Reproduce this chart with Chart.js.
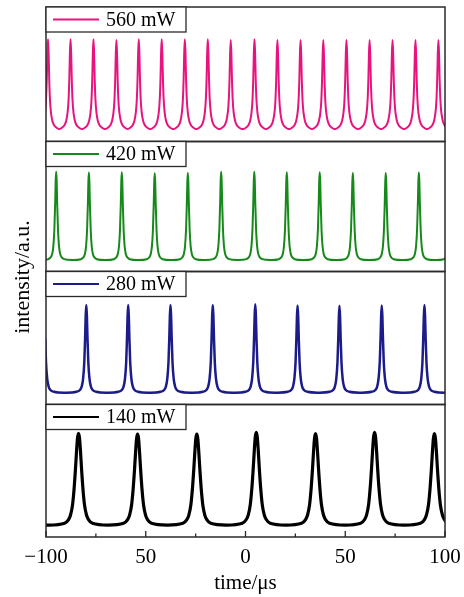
<!DOCTYPE html>
<html>
<head>
<meta charset="utf-8">
<script src="https://cdn.jsdelivr.net/npm/chart.js@4.4.1/dist/chart.umd.min.js"></script>
<style>
  html, body { margin: 0; padding: 0; background: #fff; }
  #wrap { position: relative; width: 464px; height: 597px; }
</style>
</head>
<body>
<div id="wrap"><canvas id="chart"></canvas></div>
<script>
// Panels listed top to bottom.
const powerLabels = ["560 mW", "420 mW", "280 mW", "140 mW"];
const lineColors = ["#e8137e", "#15891a", "#1b1b8a", "#000000"];

// Peak centres (µs) and peak heights (a.u.).
// A pulse just outside the window is kept where its tail reaches the frame.
const peaks560 = [-99.0, -87.7, -76.2, -64.7, -53.5, -42.0, -30.4, -18.9, -7.4, 4.5, 16.0, 27.6, 39.0, 50.6, 62.2, 73.7, 85.2, 96.7];
const heights560 = [0.76, 0.76, 0.76, 0.755, 0.76, 0.76, 0.76, 0.76, 0.755, 0.76, 0.755, 0.755, 0.755, 0.755, 0.755, 0.755, 0.755, 0.755];
const peaks420 = [-94.9, -78.5, -62.0, -45.5, -28.9, -12.2, 4.4, 20.7, 37.2, 53.8, 70.3, 86.9, 103.4];
const heights420 = [0.768, 0.761, 0.763, 0.756, 0.758, 0.768, 0.768, 0.763, 0.763, 0.758, 0.758, 0.761, 0.76];
const peaks280 = [-101.0, -79.8, -58.8, -37.6, -16.4, 4.9, 26.1, 47.1, 68.3, 89.7, 110.9];
const heights280 = [0.748, 0.748, 0.748, 0.748, 0.748, 0.753, 0.745, 0.742, 0.745, 0.748, 0.748];
const peaks140 = [-113.4, -83.7, -54.1, -24.4, 5.4, 35.1, 64.7, 94.7];
const heights140 = [0.78, 0.783, 0.776, 0.776, 0.79, 0.78, 0.79, 0.78];
const baselines = [0.093, 0.088, 0.089, 0.09];

// Pulse shape of each trace: offset from centre (µs) and fraction of peak height.
const shape560x = [-5.6, -4, -3, -2.2, -1.5, -1, -0.6, -0.3, 0, 0.3, 0.6, 1, 1.5, 2.2, 3, 4, 5.6];
const shape560y = [0, 0.02, 0.045, 0.09, 0.18, 0.32, 0.57, 0.86, 1, 0.86, 0.57, 0.32, 0.18, 0.09, 0.045, 0.02, 0];
const shape420x = [-8, -4, -2.8, -2, -1.4, -0.9, -0.5, -0.25, 0, 0.25, 0.5, 0.9, 1.4, 2, 2.8, 4, 8];
const shape420y = [0, 0.01, 0.03, 0.07, 0.16, 0.35, 0.65, 0.9, 1, 0.9, 0.65, 0.35, 0.16, 0.07, 0.03, 0.01, 0];
const shape280x = [-10, -5, -3.2, -2.3, -1.6, -1, -0.6, -0.3, 0, 0.3, 0.6, 1, 1.6, 2.3, 3.2, 5, 10];
const shape280y = [0, 0.01, 0.03, 0.07, 0.16, 0.35, 0.62, 0.88, 1, 0.88, 0.62, 0.35, 0.16, 0.07, 0.03, 0.01, 0];
const shape140x = [-14.8, -7, -5, -4, -3, -2.2, -1.5, -1, -0.5, 0, 0.5, 1, 1.5, 2.2, 3, 4, 5, 7, 14.8];
const shape140y = [0, 0.02, 0.06, 0.11, 0.22, 0.4, 0.62, 0.8, 0.95, 1, 0.95, 0.8, 0.62, 0.4, 0.22, 0.11, 0.06, 0.02, 0];

// x axis
const xTickValues = [-100, -50, 0, 50, 100];
const xTickLabels = ["\u2212100", "50", "0", "50", "100"];
const xMinorTicks = [-75, -25, 25, 75];
const xTitle = "time/\u03bcs";
const yTitle = "intensity/a.u.";

const SERIF = "'Liberation Serif', 'Times New Roman', serif";
const frameColor = "#2a2a2a";

function pulseTrain(peaks, heights, base, sx, sy) {
  const pts = [];
  peaks.forEach((c, i) => {
    sx.forEach((dx, j) => {
      pts.push({ x: c + dx, y: base + (heights[i] - base) * sy[j] });
    });
  });
  return pts;
}

const traces = [
  pulseTrain(peaks560, heights560, baselines[0], shape560x, shape560y),
  pulseTrain(peaks420, heights420, baselines[1], shape420x, shape420y),
  pulseTrain(peaks280, heights280, baselines[2], shape280x, shape280y),
  pulseTrain(peaks140, heights140, baselines[3], shape140x, shape140y),
];
const lineWidths = [2, 2, 2.5, 3.2];
// panel heights in the figure are not quite equal
const panelWeights = [134.5, 130, 133, 132.5];
const axisIds = ["p0", "p1", "p2", "p3"];

const scales = {
  x: {
    type: "linear", position: "bottom", min: -100, max: 100,
    afterBuildTicks: (s) => { s.ticks = xTickValues.map((v) => ({ value: v })); },
    afterFit: (s) => { s.height = 60; s.paddingLeft = 0; s.paddingRight = 0; },
    grid: { display: false, drawTicks: false },
    border: { display: false },
    ticks: {
      padding: 8, maxRotation: 0, color: "#000",
      font: { family: SERIF, size: 21 },
      callback: (v) => xTickLabels[xTickValues.indexOf(v)],
    },
    title: { display: true, text: xTitle, color: "#000", font: { family: SERIF, size: 21 }, padding: { top: 0, bottom: 1 } },
  },
};
// stacked left axes: the last one defined ends up on top
for (let i = 3; i >= 0; i--) {
  scales[axisIds[i]] = {
    type: "linear", position: "left", stack: "panels", stackWeight: panelWeights[i],
    min: 0, max: 1,
    afterFit: (s) => { s.width = 0; },
    ticks: { display: false }, grid: { display: false }, border: { display: false },
  };
}

const framePlugin = {
  id: "frames",
  afterDraw(chart) {
    const { ctx, chartArea } = chart;
    const xs = chart.scales.x;
    ctx.save();
    ctx.strokeStyle = frameColor;
    ctx.lineWidth = 1.5;
    axisIds.forEach((id, i) => {
      const s = chart.scales[id];
      ctx.strokeRect(chartArea.left, s.top, chartArea.right - chartArea.left, s.bottom - s.top);
      // legend box
      const bx = chartArea.left, by = s.top, bw = 140, bh = 25;
      ctx.fillStyle = "#fff";
      ctx.fillRect(bx, by, bw, bh);
      ctx.lineWidth = 1.3;
      ctx.strokeRect(bx, by, bw, bh);
      ctx.beginPath();
      ctx.strokeStyle = lineColors[i];
      ctx.lineWidth = 1.8;
      ctx.moveTo(bx + 7, by + bh / 2);
      ctx.lineTo(bx + 53, by + bh / 2);
      ctx.stroke();
      ctx.fillStyle = "#000";
      ctx.font = "20px " + SERIF;
      ctx.textBaseline = "middle";
      ctx.textAlign = "left";
      ctx.fillText(powerLabels[i], bx + 60, by + bh / 2 + 1);
      ctx.strokeStyle = frameColor;
      ctx.lineWidth = 1.5;
    });
    // inward ticks on the bottom axis
    const yb = chartArea.bottom;
    ctx.lineWidth = 1.3;
    ctx.beginPath();
    xTickValues.forEach((v) => { const px = xs.getPixelForValue(v); ctx.moveTo(px, yb); ctx.lineTo(px, yb - 6); });
    xMinorTicks.forEach((v) => { const px = xs.getPixelForValue(v); ctx.moveTo(px, yb); ctx.lineTo(px, yb - 3.5); });
    ctx.stroke();
    // y title across all panels
    ctx.save();
    ctx.translate(23, (chartArea.top + chartArea.bottom) / 2 + 5);
    ctx.rotate(-Math.PI / 2);
    ctx.textAlign = "center";
    ctx.textBaseline = "middle";
    ctx.font = "22px " + SERIF;
    ctx.fillStyle = "#000";
    ctx.fillText(yTitle, 0, 0);
    ctx.restore();
    ctx.restore();
  },
};

new Chart(document.getElementById("chart"), {
  type: "line",
  data: {
    datasets: traces.map((t, i) => ({
      label: powerLabels[i],
      data: t,
      yAxisID: axisIds[i],
      borderColor: lineColors[i],
      borderWidth: lineWidths[i],
      pointRadius: 0,
      cubicInterpolationMode: "monotone",
      fill: false,
    })),
  },
  options: {
    responsive: true,
    maintainAspectRatio: false,
    animation: false,
    layout: { padding: { left: 46, right: 19, top: 7, bottom: 0 } },
    plugins: { legend: { display: false }, tooltip: { enabled: false } },
    scales,
  },
  plugins: [framePlugin],
});
</script>
</body>
</html>
